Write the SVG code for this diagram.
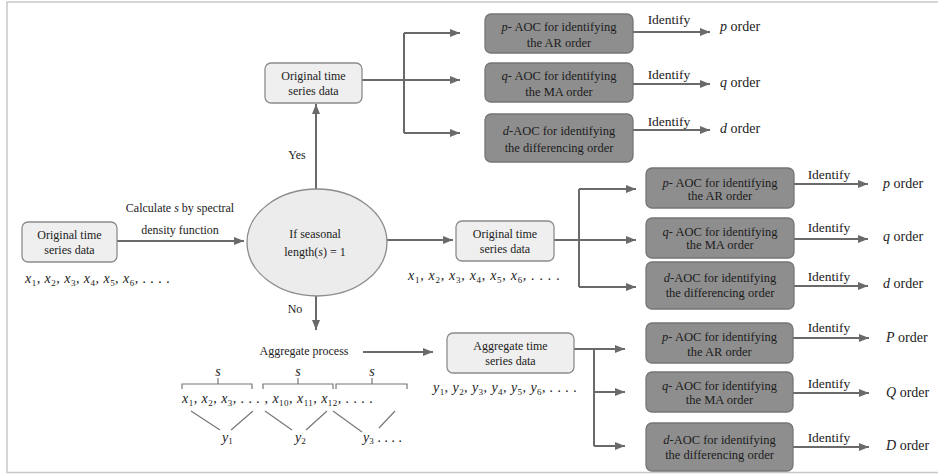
<svg xmlns="http://www.w3.org/2000/svg" width="938" height="474" viewBox="0 0 938 474">
<defs>
<marker id="ah" viewBox="0 0 10 8" refX="10" refY="4" markerWidth="10" markerHeight="8" markerUnits="userSpaceOnUse" orient="auto">
<path d="M0,0 L10,4 L0,8 z" fill="#6a6a6a"/>
</marker>
</defs>
<style>
.lb{fill:#efefef;stroke:#8c8c8c;stroke-width:1.3}
.gb{fill:#8e8e8e;stroke:#767676;stroke-width:1.3}
.el{fill:#ececec;stroke:#8c8c8c;stroke-width:1.3}
.t{font-family:"Liberation Serif","Times New Roman",serif;font-size:12px;fill:#222;text-anchor:middle}
.tg{font-size:12.5px;fill:#1c1c1c}
.lab{font-family:"Liberation Serif","Times New Roman",serif;font-size:13.5px;fill:#222}
.ord{font-family:"Liberation Serif","Times New Roman",serif;font-size:14px;fill:#222}
.c{stroke:#6a6a6a;stroke-width:2;fill:none}
.a{marker-end:url(#ah)}
.m{font-family:"Liberation Serif","Times New Roman",serif;font-style:italic;font-size:14px;fill:#222}
.sub{font-size:9px;font-style:normal}
.br{stroke:#777;stroke-width:1.2;fill:none}
i{font-style:italic}
</style>
<rect x="7" y="2" width="950" height="470.5" fill="#fff" stroke="#c8c8c8" stroke-width="1.5"/>

<g id="connectors">
<path class="c a" d="M117,241 H244"/>
<path class="c a" d="M316,189 V104"/>
<path class="c a" d="M362,80 H460"/>
<path class="c" d="M404,33 V133"/>
<path class="c a" d="M404,33 H460"/>
<path class="c a" d="M404,133 H460"/>
<path class="c a" d="M633,32 H710"/>
<path class="c a" d="M633,84 H710"/>
<path class="c a" d="M633,130 H710"/>
<path class="c a" d="M387,240 H453"/>
<path class="c a" d="M554,240 H636"/>
<path class="c" d="M579,189 V287"/>
<path class="c a" d="M579,189 H636"/>
<path class="c a" d="M579,287 H636"/>
<path class="c a" d="M794,184 H868"/>
<path class="c a" d="M794,239 H868"/>
<path class="c a" d="M794,286 H868"/>
<path class="c a" d="M316,296 V330"/>
<path class="c a" d="M363,352 H433"/>
<path class="c a" d="M574,349 H625"/>
<path class="c" d="M594,349 V446"/>
<path class="c a" d="M594,392 H625"/>
<path class="c a" d="M594,446 H625"/>
<path class="c a" d="M793,338 H869"/>
<path class="c a" d="M793,393 H869"/>
<path class="c a" d="M793,447 H869"/>
</g>

<g id="labels">
<text class="t" x="180" y="212">Calculate <tspan font-style="italic">s</tspan> by spectral</text>
<text class="t" x="180" y="234">density function</text>
<text class="t" x="297" y="159" font-size="12.5">Yes</text>
<text class="t" x="295" y="313" font-size="13">No</text>
<text class="lab" x="669" y="24" text-anchor="middle">Identify</text>
<text class="lab" x="669" y="79" text-anchor="middle">Identify</text>
<text class="lab" x="669" y="126" text-anchor="middle">Identify</text>
<text class="lab" x="829" y="179" text-anchor="middle">Identify</text>
<text class="lab" x="829" y="232" text-anchor="middle">Identify</text>
<text class="lab" x="829" y="281" text-anchor="middle">Identify</text>
<text class="lab" x="829" y="332" text-anchor="middle">Identify</text>
<text class="lab" x="829" y="388" text-anchor="middle">Identify</text>
<text class="lab" x="829" y="442" text-anchor="middle">Identify</text>
<text class="ord" x="720" y="31"><tspan font-style="italic">p</tspan> order</text>
<text class="ord" x="720" y="87"><tspan font-style="italic">q</tspan> order</text>
<text class="ord" x="720" y="133"><tspan font-style="italic">d</tspan> order</text>
<text class="ord" x="883" y="188"><tspan font-style="italic">p</tspan> order</text>
<text class="ord" x="883" y="241"><tspan font-style="italic">q</tspan> order</text>
<text class="ord" x="883" y="288"><tspan font-style="italic">d</tspan> order</text>
<text class="ord" x="886" y="342"><tspan font-style="italic">P</tspan> order</text>
<text class="ord" x="886" y="397"><tspan font-style="italic">Q</tspan> order</text>
<text class="ord" x="886" y="450"><tspan font-style="italic">D</tspan> order</text>
</g>

<g id="n-orig-left">
<rect class="lb" x="22" y="222" width="95" height="40" rx="6"/>
<text class="t" x="69.5" y="239">Original time</text>
<text class="t" x="69.5" y="254">series data</text>
<text class="m" x="25" y="283" textLength="145" lengthAdjust="spacing">x<tspan class="sub" dy="3">1</tspan><tspan dy="-3">, x</tspan><tspan class="sub" dy="3">2</tspan><tspan dy="-3">, x</tspan><tspan class="sub" dy="3">3</tspan><tspan dy="-3">, x</tspan><tspan class="sub" dy="3">4</tspan><tspan dy="-3">, x</tspan><tspan class="sub" dy="3">5</tspan><tspan dy="-3">, x</tspan><tspan class="sub" dy="3">6</tspan><tspan dy="-3">, . . . .</tspan></text>
</g>

<g id="n-decision">
<ellipse class="el" cx="317" cy="242.5" rx="70" ry="53.5"/>
<text class="t" x="315" y="238">If seasonal</text>
<text class="t" x="315" y="256">length(<tspan font-style="italic">s</tspan>) = 1</text>
</g>

<g id="n-orig-top">
<rect class="lb" x="265" y="63" width="97" height="40" rx="6"/>
<text class="t" x="313.5" y="80">Original time</text>
<text class="t" x="313.5" y="95">series data</text>
</g>

<g id="n-orig-mid">
<rect class="lb" x="456" y="221" width="98" height="40" rx="6"/>
<text class="t" x="505" y="238">Original time</text>
<text class="t" x="505" y="253">series data</text>
<text class="m" x="408" y="280" textLength="152" lengthAdjust="spacing">x<tspan class="sub" dy="3">1</tspan><tspan dy="-3">, x</tspan><tspan class="sub" dy="3">2</tspan><tspan dy="-3">, x</tspan><tspan class="sub" dy="3">3</tspan><tspan dy="-3">, x</tspan><tspan class="sub" dy="3">4</tspan><tspan dy="-3">, x</tspan><tspan class="sub" dy="3">5</tspan><tspan dy="-3">, x</tspan><tspan class="sub" dy="3">6</tspan><tspan dy="-3">, . . . .</tspan></text>
</g>

<g id="n-aggregate-process">
<text class="t" x="304" y="355" font-size="13.5">Aggregate process</text>
<text class="m" x="218" y="376" text-anchor="middle" font-size="12" fill="#4a3a5a">s</text>
<text class="m" x="298" y="376" text-anchor="middle" font-size="12" fill="#4a3a5a">s</text>
<text class="m" x="372" y="376" text-anchor="middle" font-size="12" fill="#4a3a5a">s</text>
<path class="br" d="M182,389 V384 H252 V389 M218,384 V378"/>
<path class="br" d="M263,389 V384 H333 V389 M298,384 V378"/>
<path class="br" d="M336,389 V384 H407 V389 M372,384 V378"/>
<text class="m" x="182" y="403" textLength="191" lengthAdjust="spacing">x<tspan class="sub" dy="3">1</tspan><tspan dy="-3">, x</tspan><tspan class="sub" dy="3">2</tspan><tspan dy="-3">, x</tspan><tspan class="sub" dy="3">3</tspan><tspan dy="-3">, . . . , x</tspan><tspan class="sub" dy="3">10</tspan><tspan dy="-3">, x</tspan><tspan class="sub" dy="3">11</tspan><tspan dy="-3">, x</tspan><tspan class="sub" dy="3">12</tspan><tspan dy="-3">, . . . .</tspan></text>
<path class="br" d="M191,411 L220,430 M253,411 L231,430"/>
<path class="br" d="M265,411 L292,430 M327,411 L306,430"/>
<path class="br" d="M333,411 L362,432 M395,411 L379,428"/>
<text class="m" x="222" y="442">y<tspan class="sub" dy="2">1</tspan></text>
<text class="m" x="295" y="442">y<tspan class="sub" dy="2">2</tspan></text>
<text class="m" x="363" y="442">y<tspan class="sub" dy="2">3</tspan><tspan dy="-2" dx="4">. . . .</tspan></text>
</g>

<g id="n-aggregate">
<rect class="lb" x="447" y="333" width="127" height="40" rx="6"/>
<text class="t" x="510.5" y="350">Aggregate  time</text>
<text class="t" x="510.5" y="365">series data</text>
<text class="m" x="433" y="392" textLength="144" lengthAdjust="spacing">y<tspan class="sub" dy="3">1</tspan><tspan dy="-3">, y</tspan><tspan class="sub" dy="3">2</tspan><tspan dy="-3">, y</tspan><tspan class="sub" dy="3">3</tspan><tspan dy="-3">, y</tspan><tspan class="sub" dy="3">4</tspan><tspan dy="-3">, y</tspan><tspan class="sub" dy="3">5</tspan><tspan dy="-3">, y</tspan><tspan class="sub" dy="3">6</tspan><tspan dy="-3">, . . . .</tspan></text>
</g>

<g id="n-top-p">
<rect class="gb" x="485" y="14" width="148" height="39" rx="6"/>
<text class="t tg" x="559" y="31"><tspan font-style="italic">p</tspan>- AOC for identifying</text>
<text class="t tg" x="559" y="47">the AR order</text>
</g>
<g id="n-top-q">
<rect class="gb" x="485" y="63" width="148" height="39" rx="6"/>
<text class="t tg" x="559" y="80"><tspan font-style="italic">q</tspan>- AOC for identifying</text>
<text class="t tg" x="559" y="96">the MA order</text>
</g>
<g id="n-top-d">
<rect class="gb" x="485" y="114" width="148" height="48" rx="6"/>
<text class="t tg" x="559" y="135"><tspan font-style="italic">d</tspan>-AOC for identifying</text>
<text class="t tg" x="559" y="152">the differencing order</text>
</g>

<g id="n-mid-p">
<rect class="gb" x="646" y="168" width="148" height="40" rx="6"/>
<text class="t tg" x="720" y="187"><tspan font-style="italic">p</tspan>- AOC  for identifying</text>
<text class="t tg" x="720" y="200">the AR order</text>
</g>
<g id="n-mid-q">
<rect class="gb" x="646" y="218" width="148" height="40" rx="6"/>
<text class="t tg" x="720" y="236"><tspan font-style="italic">q</tspan>- AOC for identifying</text>
<text class="t tg" x="720" y="249">the MA order</text>
</g>
<g id="n-mid-d">
<rect class="gb" x="646" y="262" width="148" height="47" rx="6"/>
<text class="t tg" x="720" y="282"><tspan font-style="italic">d</tspan>-AOC for identifying</text>
<text class="t tg" x="720" y="297">the differencing order</text>
</g>

<g id="n-bot-p">
<rect class="gb" x="646" y="323" width="147" height="40" rx="6"/>
<text class="t tg" x="719.5" y="341"><tspan font-style="italic">p</tspan>- AOC  for identifying</text>
<text class="t tg" x="719.5" y="356">the AR order</text>
</g>
<g id="n-bot-q">
<rect class="gb" x="646" y="372" width="147" height="40" rx="6"/>
<text class="t tg" x="719.5" y="390"><tspan font-style="italic">q</tspan>- AOC for identifying</text>
<text class="t tg" x="719.5" y="404">the MA order</text>
</g>
<g id="n-bot-d">
<rect class="gb" x="646" y="423" width="147" height="48" rx="6"/>
<text class="t tg" x="719.5" y="444"><tspan font-style="italic">d</tspan>-AOC for identifying</text>
<text class="t tg" x="719.5" y="459">the differencing order</text>
</g>
</svg>
